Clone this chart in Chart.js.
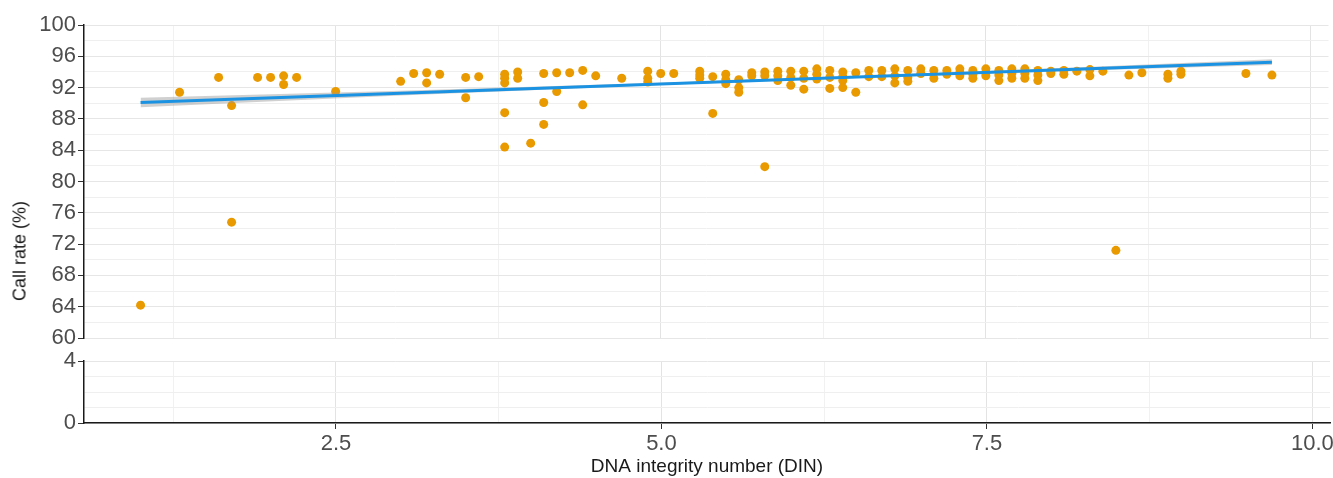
<!DOCTYPE html>
<html>
<head>
<meta charset="utf-8">
<script src="https://cdn.jsdelivr.net/npm/chart.js@4.4.0/dist/chart.umd.min.js"></script>
<style>
    body { margin: 0; background: #fff; }
    #painel { position: relative; width: 1333px; height: 478px; }
    #caixa-superior { position: absolute; left: 0; top: 0; width: 1333px; height: 345px; }
    #caixa-inferior { position: absolute; left: 0; top: 345px; width: 1333px; height: 133px; }
    #titulo-y {
        position: absolute; left: 20px; top: 251px;
        transform: translate(-50%, -50%) rotate(-90deg);
        font: 18px "Liberation Sans", Arial, sans-serif; color: #1a1a1a; white-space: nowrap;
    }
</style>
</head>
<body>
<div id="painel">
    <div id="caixa-superior"><canvas id="grafico-superior"></canvas></div>
    <div id="caixa-inferior"><canvas id="grafico-inferior"></canvas></div>
    <div id="titulo-y">Call rate (%)</div>
</div>
<script>
// DIN de cada amostra e call rate correspondente
const dinValues = [
    1.0, 1.3, 1.6, 1.7, 1.7, 1.9, 2.0, 2.1, 2.1, 2.2, 2.5,
    3.0, 3.1, 3.2, 3.2, 3.3, 3.5, 3.5, 3.6,
    3.8, 3.8, 3.8, 3.8, 3.8, 3.9, 3.9, 4.0,
    4.1, 4.1, 4.1, 4.2, 4.2, 4.3, 4.4, 4.4, 4.5, 4.7,
    4.9, 4.9, 4.9, 5.0, 5.1, 5.3, 5.3, 5.3, 5.4, 5.4,
    5.5, 5.5, 5.5, 5.6, 5.6, 5.6, 5.7, 5.7, 5.8, 5.8, 5.8,
    5.9, 5.9, 5.9, 6.0, 6.0, 6.0, 6.1, 6.1, 6.1,
    6.2, 6.2, 6.2, 6.3, 6.3, 6.3, 6.4, 6.4, 6.4, 6.4,
    6.5, 6.5, 6.6, 6.6, 6.7, 6.7, 6.8, 6.8, 6.8, 6.9, 6.9, 6.9,
    7.0, 7.0, 7.1, 7.1, 7.2, 7.2, 7.3, 7.3, 7.3, 7.4, 7.4, 7.4,
    7.5, 7.5, 7.5, 7.6, 7.6, 7.6, 7.7, 7.7, 7.7, 7.8, 7.8, 7.8,
    7.9, 7.9, 7.9, 8.0, 8.0, 8.1, 8.1, 8.2, 8.3, 8.3, 8.4, 8.5,
    8.6, 8.7, 8.9, 8.9, 9.0, 9.0, 9.5, 9.7
];
const callRates = [
    64.2, 91.4, 93.3, 89.7, 74.8, 93.3, 93.3, 93.5, 92.4, 93.3, 91.5,
    92.8, 93.8, 93.9, 92.6, 93.7, 93.3, 90.7, 93.4,
    93.7, 93.2, 92.6, 88.8, 84.4, 94.0, 93.2, 84.9,
    93.8, 90.1, 87.3, 93.9, 91.5, 93.9, 94.2, 89.8, 93.5, 93.2,
    94.1, 93.2, 92.7, 93.8, 93.8, 94.1, 93.6, 93.2, 93.4, 88.7,
    93.7, 93.0, 92.5, 93.0, 92.0, 91.4, 93.9, 93.5, 94.0, 93.5, 81.9,
    94.1, 93.5, 92.9, 94.1, 93.3, 92.3, 94.1, 93.2, 91.8,
    94.4, 93.7, 93.1, 94.2, 93.3, 91.9, 94.0, 93.4, 92.9, 92.0,
    93.9, 91.4, 94.2, 93.4, 94.2, 93.4, 94.4, 93.5, 92.6, 94.2, 93.3, 92.8,
    94.4, 93.8, 94.2, 93.2, 94.2, 93.7, 94.4, 93.9, 93.5, 94.2, 93.7, 93.2,
    94.4, 93.9, 93.5, 94.2, 93.6, 92.9, 94.4, 93.8, 93.2, 94.4, 93.8, 93.2,
    94.2, 93.6, 92.9, 94.1, 93.8, 94.2, 93.7, 94.1, 94.3, 93.5, 94.1, 71.2,
    93.6, 93.9, 93.7, 93.2, 94.1, 93.7, 93.8, 93.6
];

// reta de regressão e faixa de confiança
const tendenciaX = [1.0, 9.7];
const tendenciaY = [90.1, 95.25];
const bandaX = [1.0, 3.0, 5.0, 6.5, 8.0, 9.7];
const bandaInferior = [89.5, 90.98, 92.33, 93.24, 94.05, 94.88];
const bandaSuperior = [90.7, 91.6, 92.62, 93.48, 94.45, 95.62];

// ticks dos eixos
const ticksX = [1.25, 2.5, 3.75, 5.0, 6.25, 7.5, 8.75, 10.0];
const rotulosX = [2.5, 5.0, 7.5, 10.0];
const ticksYSuperior = [60, 62, 64, 66, 68, 70, 72, 74, 76, 78, 80, 82, 84, 86, 88, 90, 92, 94, 96, 98, 100];
const rotulosYSuperior = [60, 64, 68, 72, 76, 80, 84, 88, 92, 96, 100];
const ticksYInferior = [0, 1, 2, 3, 4];
const rotulosYInferior = [0, 4];

const FONTE = '"Liberation Sans", Arial, sans-serif';
Chart.defaults.font.family = FONTE;

const X_MIN = 0.565;
const X_MAX = 10.135;

const pares = (xs, ys) => xs.map((x, i) => ({ x: x, y: ys[i] }));

// sem folga automática: a área do gráfico fica onde o layout manda
const zerarFolgas = (scale) => {
    scale.paddingTop = 0;
    scale.paddingBottom = 0;
    scale.paddingLeft = 0;
    scale.paddingRight = 0;
};

const escalaX = (mostrar) => ({
    type: "linear",
    min: X_MIN,
    max: X_MAX,
    afterBuildTicks: (scale) => {
        scale.ticks = ticksX.map((v) => ({ value: v }));
    },
    afterFit: (scale) => {
        scale.height = mostrar ? 55 : 7;
        zerarFolgas(scale);
    },
    ticks: {
        display: mostrar,
        autoSkip: false,
        maxRotation: 0,
        padding: 2,
        color: "#4d4d4d",
        font: { size: 22 },
        callback: (v) => (rotulosX.includes(v) ? v.toFixed(1) : ""),
    },
    grid: {
        drawTicks: mostrar,
        tickLength: 6,
        color: (ctx) => (ctx.tick && rotulosX.includes(ctx.tick.value) ? "#e3e3e3" : "#f1f1f1"),
        tickColor: (ctx) => (ctx.tick && rotulosX.includes(ctx.tick.value) ? "#333" : "rgba(0,0,0,0)"),
    },
    border: { display: mostrar, color: "#1a1a1a", width: 1.5 },
    title: {
        display: mostrar,
        text: "DNA integrity number (DIN)",
        color: "#1a1a1a",
        font: { size: 19 },
        padding: 0,
    },
});

const escalaY = (min, max, ticks, rotulos) => ({
    type: "linear",
    min: min,
    max: max,
    afterBuildTicks: (scale) => {
        scale.ticks = ticks.map((v) => ({ value: v }));
    },
    afterFit: (scale) => {
        scale.width = 84;
        zerarFolgas(scale);
    },
    ticks: {
        autoSkip: false,
        padding: 2,
        color: "#4d4d4d",
        font: { size: 22 },
        callback: (v) => (rotulos.includes(v) ? String(v) : ""),
    },
    grid: {
        tickLength: 6,
        color: (ctx) => (ctx.tick && rotulos.includes(ctx.tick.value) ? "#e6e6e6" : "#efefef"),
        tickColor: (ctx) => (ctx.tick && rotulos.includes(ctx.tick.value) ? "#333" : "rgba(0,0,0,0)"),
    },
    border: { display: true, color: "#1a1a1a", width: 1.5 },
});

const opcoesBase = {
    responsive: true,
    maintainAspectRatio: false,
    animation: false,
    plugins: { legend: { display: false }, tooltip: { enabled: false } },
};

new Chart(document.getElementById("grafico-superior").getContext("2d"), {
    type: "scatter",
    data: {
        datasets: [
            {
                data: pares(dinValues, callRates),
                backgroundColor: "#e99a00",
                borderWidth: 0,
                pointRadius: 4.5,
                order: 4,
            },
            {
                type: "line",
                data: pares(bandaX, bandaInferior),
                borderWidth: 0,
                pointRadius: 0,
                fill: false,
                order: 3,
            },
            {
                type: "line",
                data: pares(bandaX, bandaSuperior),
                borderWidth: 0,
                pointRadius: 0,
                backgroundColor: "rgba(150,150,150,0.45)",
                fill: 1,
                order: 2,
            },
            {
                type: "line",
                data: pares(tendenciaX, tendenciaY),
                borderColor: "#1b93e2",
                borderWidth: 3,
                pointRadius: 0,
                fill: false,
                order: 1,
            },
        ],
    },
    options: {
        ...opcoesBase,
        layout: { padding: { top: 25, right: 3, bottom: 0, left: 0 } },
        scales: {
            x: escalaX(false),
            y: escalaY(60, 100, ticksYSuperior, rotulosYSuperior),
        },
    },
});

new Chart(document.getElementById("grafico-inferior").getContext("2d"), {
    type: "scatter",
    data: { datasets: [] },
    options: {
        ...opcoesBase,
        layout: { padding: { top: 16, right: 3, bottom: 0, left: 0 } },
        scales: {
            x: escalaX(true),
            y: escalaY(0, 4, ticksYInferior, rotulosYInferior),
        },
    },
});
</script>
</body>
</html>
